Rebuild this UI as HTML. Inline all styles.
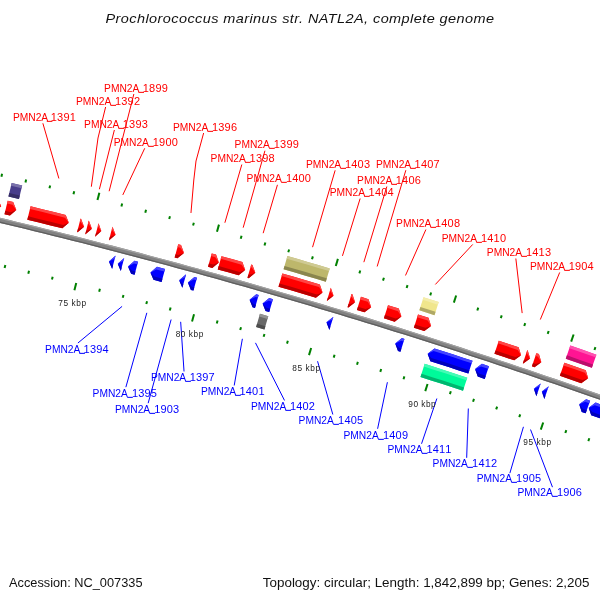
<!DOCTYPE html>
<html><head><meta charset="utf-8"><title>CGView map</title>
<style>
html,body{margin:0;padding:0;background:#fff;}
svg{display:block;font-family:"Liberation Sans",sans-serif;}
svg{will-change:transform;}
</style></head><body>
<svg width="600" height="600" viewBox="0 0 600 600">
<rect width="600" height="600" fill="#fff"/>
<g transform="translate(0.1,0.55)"><polygon points="-31.81,209.70 -22.21,211.95 -12.61,214.21 -3.02,216.49 6.56,218.79 16.15,221.10 25.73,223.43 35.31,225.77 44.88,228.13 54.45,230.50 64.01,232.89 73.57,235.29 83.13,237.71 92.68,240.15 102.23,242.60 111.78,245.07 121.32,247.55 130.86,250.05 140.39,252.57 149.92,255.10 159.44,257.64 168.96,260.20 178.48,262.78 187.99,265.37 197.50,267.98 207.00,270.60 216.50,273.24 226.00,275.89 235.49,278.56 244.97,281.25 254.45,283.95 263.93,286.67 273.40,289.40 282.87,292.15 292.34,294.91 301.80,297.69 311.25,300.48 320.70,303.29 330.15,306.12 339.59,308.96 349.02,311.81 358.45,314.69 367.88,317.57 377.30,320.47 386.72,323.39 396.13,326.32 405.54,329.27 414.94,332.24 424.34,335.22 433.73,338.21 443.12,341.22 452.51,344.25 461.88,347.29 471.26,350.34 480.63,353.41 489.99,356.50 499.35,359.60 508.70,362.72 518.05,365.85 527.39,369.00 536.73,372.16 546.06,375.34 555.39,378.54 564.71,381.75 574.03,384.97 583.34,388.21 592.64,391.47 601.94,394.74 611.24,398.02 620.53,401.32 629.81,404.64 639.09,407.97 637.40,412.67 628.13,409.34 618.85,406.03 609.57,402.73 600.28,399.45 590.99,396.18 581.69,392.93 572.39,389.69 563.08,386.47 553.76,383.27 544.44,380.08 535.12,376.90 525.79,373.74 516.45,370.59 507.11,367.46 497.77,364.35 488.42,361.25 479.06,358.16 469.70,355.10 460.34,352.04 450.97,349.00 441.59,345.98 432.21,342.97 422.83,339.98 413.44,337.00 404.04,334.04 394.64,331.10 385.24,328.17 375.83,325.25 366.41,322.35 356.99,319.47 347.57,316.60 338.14,313.74 328.71,310.91 319.27,308.08 309.83,305.28 300.38,302.49 290.93,299.71 281.48,296.95 272.01,294.20 262.55,291.47 253.08,288.76 243.61,286.06 234.13,283.38 224.65,280.71 215.16,278.06 205.67,275.42 196.17,272.80 186.67,270.19 177.17,267.60 167.66,265.03 158.15,262.47 148.63,259.93 139.11,257.40 129.59,254.89 120.06,252.39 110.52,249.91 100.99,247.44 91.44,244.99 81.90,242.56 72.35,240.14 62.80,237.74 53.24,235.35 43.68,232.98 34.11,230.62 24.55,228.28 14.97,225.96 5.40,223.65 -4.18,221.36 -13.77,219.08 -23.35,216.82 -32.95,214.57" fill="rgb(130,130,130)"/>
<polygon points="-31.81,209.70 -22.21,211.95 -12.61,214.21 -3.02,216.49 6.56,218.79 16.15,221.10 25.73,223.43 35.31,225.77 44.88,228.13 54.45,230.50 64.01,232.89 73.57,235.29 83.13,237.71 92.68,240.15 102.23,242.60 111.78,245.07 121.32,247.55 130.86,250.05 140.39,252.57 149.92,255.10 159.44,257.64 168.96,260.20 178.48,262.78 187.99,265.37 197.50,267.98 207.00,270.60 216.50,273.24 226.00,275.89 235.49,278.56 244.97,281.25 254.45,283.95 263.93,286.67 273.40,289.40 282.87,292.15 292.34,294.91 301.80,297.69 311.25,300.48 320.70,303.29 330.15,306.12 339.59,308.96 349.02,311.81 358.45,314.69 367.88,317.57 377.30,320.47 386.72,323.39 396.13,326.32 405.54,329.27 414.94,332.24 424.34,335.22 433.73,338.21 443.12,341.22 452.51,344.25 461.88,347.29 471.26,350.34 480.63,353.41 489.99,356.50 499.35,359.60 508.70,362.72 518.05,365.85 527.39,369.00 536.73,372.16 546.06,375.34 555.39,378.54 564.71,381.75 574.03,384.97 583.34,388.21 592.64,391.47 601.94,394.74 611.24,398.02 620.53,401.32 629.81,404.64 639.09,407.97 638.72,409.00 629.44,405.67 620.16,402.36 610.87,399.06 601.58,395.77 592.28,392.50 582.98,389.25 573.67,386.01 564.35,382.79 555.03,379.58 545.70,376.38 536.37,373.21 527.04,370.04 517.70,366.90 508.35,363.76 499.00,360.65 489.64,357.55 480.28,354.46 470.92,351.39 461.54,348.33 452.17,345.29 442.79,342.27 433.40,339.26 424.01,336.26 414.61,333.29 405.21,330.32 395.80,327.37 386.39,324.44 376.98,321.53 367.56,318.62 358.13,315.74 348.70,312.87 339.27,310.01 329.83,307.17 320.39,304.35 310.94,301.54 301.48,298.74 292.03,295.97 282.57,293.20 273.10,290.46 263.63,287.73 254.15,285.01 244.67,282.31 235.19,279.62 225.70,276.95 216.21,274.30 206.71,271.66 197.21,269.04 187.70,266.43 178.19,263.84 168.68,261.26 159.16,258.70 149.63,256.16 140.11,253.63 130.58,251.12 121.04,248.62 111.50,246.13 101.96,243.67 92.41,241.22 82.86,238.78 73.30,236.36 63.75,233.96 54.18,231.57 44.61,229.19 35.04,226.84 25.47,224.49 15.89,222.17 6.31,219.86 -3.28,217.56 -12.87,215.28 -22.46,213.02 -32.06,210.77" fill="rgb(164,164,164)"/>
<polygon points="-32.65,213.31 -23.06,215.55 -13.47,217.81 -3.88,220.09 5.70,222.39 15.28,224.70 24.85,227.02 34.42,229.36 43.99,231.72 53.55,234.09 63.11,236.48 72.67,238.88 82.22,241.30 91.77,243.73 101.31,246.19 110.85,248.65 120.38,251.13 129.92,253.63 139.44,256.14 148.97,258.67 158.48,261.21 168.00,263.77 177.51,266.35 187.02,268.94 196.52,271.55 206.01,274.17 215.51,276.80 225.00,279.46 234.48,282.13 243.96,284.81 253.44,287.51 262.91,290.22 272.38,292.95 281.84,295.70 291.30,298.46 300.75,301.24 310.20,304.03 319.64,306.84 329.08,309.66 338.52,312.50 347.95,315.35 357.37,318.22 366.79,321.11 376.21,324.01 385.62,326.93 395.03,329.86 404.43,332.80 413.83,335.77 423.22,338.74 432.61,341.74 441.99,344.74 451.37,347.77 460.74,350.81 470.11,353.86 479.47,356.93 488.83,360.01 498.18,363.11 507.53,366.23 516.87,369.36 526.21,372.51 535.54,375.67 544.86,378.84 554.19,382.04 563.50,385.24 572.81,388.47 582.12,391.70 591.42,394.96 600.71,398.22 610.00,401.51 619.29,404.81 628.57,408.12 637.84,411.45 637.40,412.67 628.13,409.34 618.85,406.03 609.57,402.73 600.28,399.45 590.99,396.18 581.69,392.93 572.39,389.69 563.08,386.47 553.76,383.27 544.44,380.08 535.12,376.90 525.79,373.74 516.45,370.59 507.11,367.46 497.77,364.35 488.42,361.25 479.06,358.16 469.70,355.10 460.34,352.04 450.97,349.00 441.59,345.98 432.21,342.97 422.83,339.98 413.44,337.00 404.04,334.04 394.64,331.10 385.24,328.17 375.83,325.25 366.41,322.35 356.99,319.47 347.57,316.60 338.14,313.74 328.71,310.91 319.27,308.08 309.83,305.28 300.38,302.49 290.93,299.71 281.48,296.95 272.01,294.20 262.55,291.47 253.08,288.76 243.61,286.06 234.13,283.38 224.65,280.71 215.16,278.06 205.67,275.42 196.17,272.80 186.67,270.19 177.17,267.60 167.66,265.03 158.15,262.47 148.63,259.93 139.11,257.40 129.59,254.89 120.06,252.39 110.52,249.91 100.99,247.44 91.44,244.99 81.90,242.56 72.35,240.14 62.80,237.74 53.24,235.35 43.68,232.98 34.11,230.62 24.55,228.28 14.97,225.96 5.40,223.65 -4.18,221.36 -13.77,219.08 -23.35,216.82 -32.95,214.57" fill="rgb(95,95,95)"/></g>
<polygon points="-15.77,195.18 -2.01,198.44 1.18,206.29 -5.21,211.86 -18.94,208.61" fill="rgb(255,0,0)"/>
<polygon points="-15.77,195.18 -2.01,198.44 1.18,206.29 -2.65,201.12 -16.41,197.87" fill="rgb(255,69,69)"/>
<polygon points="-18.15,205.25 -4.41,208.51 1.18,206.29 -5.21,211.86 -18.94,208.61" fill="rgb(186,0,0)"/>
<polygon points="7.71,200.76 13.15,202.07 16.32,209.93 9.92,215.48 4.50,214.18" fill="rgb(255,0,0)"/>
<polygon points="7.71,200.76 13.15,202.07 16.32,209.93 12.50,204.75 7.07,203.44" fill="rgb(255,69,69)"/>
<polygon points="5.30,210.82 10.73,212.13 16.32,209.93 9.92,215.48 4.50,214.18" fill="rgb(186,0,0)"/>
<polygon points="30.60,206.29 42.31,209.16 54.01,212.05 65.71,214.96 68.81,222.85 62.36,228.35 50.69,225.44 39.02,222.56 27.33,219.70" fill="rgb(255,0,0)"/>
<polygon points="30.60,206.29 42.31,209.16 54.01,212.05 65.71,214.96 68.81,222.85 65.04,217.64 53.35,214.73 41.65,211.84 29.95,208.97" fill="rgb(255,69,69)"/>
<polygon points="28.15,216.35 39.84,219.21 51.52,222.10 63.20,225.00 68.81,222.85 62.36,228.35 50.69,225.44 39.02,222.56 27.33,219.70" fill="rgb(186,0,0)"/>
<polygon points="80.52,218.69 81.00,218.81 84.08,226.71 77.61,232.19 77.14,232.07" fill="rgb(255,0,0)"/>
<polygon points="80.52,218.69 81.00,218.81 84.08,226.71 80.32,221.49 79.84,221.37" fill="rgb(255,69,69)"/>
<polygon points="77.98,228.72 78.46,228.84 84.08,226.71 77.61,232.19 77.14,232.07" fill="rgb(186,0,0)"/>
<polygon points="88.66,220.75 88.88,220.81 91.95,228.71 85.48,234.18 85.26,234.13" fill="rgb(255,0,0)"/>
<polygon points="88.66,220.75 88.88,220.81 91.95,228.71 88.20,223.48 87.98,223.43" fill="rgb(255,69,69)"/>
<polygon points="86.11,230.79 86.33,230.84 91.95,228.71 85.48,234.18 85.26,234.13" fill="rgb(186,0,0)"/>
<polygon points="98.50,223.26 101.31,231.11 95.07,236.63" fill="rgb(255,0,0)"/>
<polygon points="98.50,223.26 101.31,231.11 97.81,225.94" fill="rgb(255,69,69)"/>
<polygon points="95.93,233.29 101.31,231.11 95.07,236.63" fill="rgb(186,0,0)"/>
<polygon points="112.43,226.85 112.57,226.89 115.61,234.80 109.12,240.25 108.97,240.21" fill="rgb(255,0,0)"/>
<polygon points="112.43,226.85 112.57,226.89 115.61,234.80 111.88,229.56 111.74,229.52" fill="rgb(255,69,69)"/>
<polygon points="109.84,236.87 109.98,236.91 115.61,234.80 109.12,240.25 108.97,240.21" fill="rgb(186,0,0)"/>
<polygon points="178.25,244.27 181.03,245.03 183.97,252.98 177.42,258.35 174.64,257.59" fill="rgb(255,0,0)"/>
<polygon points="178.25,244.27 181.03,245.03 183.97,252.98 180.31,247.69 177.53,246.94" fill="rgb(255,69,69)"/>
<polygon points="175.54,254.26 178.32,255.02 183.97,252.98 177.42,258.35 174.64,257.59" fill="rgb(186,0,0)"/>
<polygon points="211.72,253.44 216.00,254.62 218.89,262.59 212.30,267.92 208.04,266.74" fill="rgb(255,0,0)"/>
<polygon points="211.72,253.44 216.00,254.62 218.89,262.59 215.26,257.28 210.99,256.10" fill="rgb(255,69,69)"/>
<polygon points="208.96,263.41 213.23,264.60 218.89,262.59 212.30,267.92 208.04,266.74" fill="rgb(186,0,0)"/>
<polygon points="221.46,256.14 231.90,259.07 242.35,262.01 245.21,269.99 238.60,275.29 228.18,272.35 217.75,269.44" fill="rgb(255,0,0)"/>
<polygon points="221.46,256.14 231.90,259.07 242.35,262.01 245.21,269.99 241.60,264.66 231.16,261.72 220.71,258.80" fill="rgb(255,69,69)"/>
<polygon points="218.68,266.11 229.11,269.03 239.54,271.97 245.21,269.99 238.60,275.29 228.18,272.35 217.75,269.44" fill="rgb(186,0,0)"/>
<polygon points="251.26,264.53 252.47,264.88 255.31,272.86 248.69,278.15 247.49,277.81" fill="rgb(255,0,0)"/>
<polygon points="251.26,264.53 252.47,264.88 255.31,272.86 251.71,267.53 250.51,267.19" fill="rgb(255,69,69)"/>
<polygon points="248.43,274.49 249.64,274.83 255.31,272.86 248.69,278.15 247.49,277.81" fill="rgb(186,0,0)"/>
<polygon points="282.35,273.46 294.85,277.10 307.35,280.77 319.83,284.46 322.59,292.48 315.90,297.69 303.45,294.01 290.98,290.35 278.50,286.71" fill="rgb(255,0,0)"/>
<polygon points="282.35,273.46 294.85,277.10 307.35,280.77 319.83,284.46 322.59,292.48 319.05,287.11 306.57,283.42 294.08,279.75 281.58,276.11" fill="rgb(255,69,69)"/>
<polygon points="279.46,283.40 291.95,287.03 304.42,290.70 316.89,294.38 322.59,292.48 315.90,297.69 303.45,294.01 290.98,290.35 278.50,286.71" fill="rgb(186,0,0)"/>
<polygon points="330.79,287.73 330.81,287.74 333.55,295.76 326.86,300.96 326.83,300.95" fill="rgb(255,0,0)"/>
<polygon points="330.79,287.73 330.81,287.74 333.55,295.76 330.02,290.38 330.00,290.37" fill="rgb(255,69,69)"/>
<polygon points="327.82,297.64 327.85,297.65 333.55,295.76 326.86,300.96 326.83,300.95" fill="rgb(186,0,0)"/>
<polygon points="351.54,293.98 352.39,294.24 355.10,302.27 348.39,307.44 347.54,307.19" fill="rgb(255,0,0)"/>
<polygon points="351.54,293.98 352.39,294.24 355.10,302.27 351.59,296.88 350.74,296.62" fill="rgb(255,69,69)"/>
<polygon points="348.54,303.88 349.39,304.14 355.10,302.27 348.39,307.44 347.54,307.19" fill="rgb(186,0,0)"/>
<polygon points="360.97,296.84 368.49,299.14 371.17,307.18 364.45,312.33 356.95,310.04" fill="rgb(255,0,0)"/>
<polygon points="360.97,296.84 368.49,299.14 371.17,307.18 367.68,301.78 360.17,299.48" fill="rgb(255,69,69)"/>
<polygon points="357.95,306.74 365.46,309.04 371.17,307.18 364.45,312.33 356.95,310.04" fill="rgb(186,0,0)"/>
<polygon points="388.03,305.16 398.78,308.50 401.42,316.56 394.67,321.68 383.94,318.34" fill="rgb(255,0,0)"/>
<polygon points="388.03,305.16 398.78,308.50 401.42,316.56 397.95,311.14 387.21,307.80" fill="rgb(255,69,69)"/>
<polygon points="384.96,315.05 395.69,318.38 401.42,316.56 394.67,321.68 383.94,318.34" fill="rgb(186,0,0)"/>
<polygon points="418.03,314.54 428.50,317.86 431.10,325.93 424.32,331.01 413.87,327.70" fill="rgb(255,0,0)"/>
<polygon points="418.03,314.54 428.50,317.86 431.10,325.93 427.66,320.49 417.19,317.18" fill="rgb(255,69,69)"/>
<polygon points="414.91,324.41 425.37,327.72 431.10,325.93 424.32,331.01 413.87,327.70" fill="rgb(186,0,0)"/>
<polygon points="498.77,340.66 508.69,343.95 518.61,347.27 521.08,355.37 514.23,360.35 504.33,357.05 494.43,353.76" fill="rgb(255,0,0)"/>
<polygon points="498.77,340.66 508.69,343.95 518.61,347.27 521.08,355.37 517.73,349.88 507.82,346.57 497.90,343.28" fill="rgb(255,69,69)"/>
<polygon points="495.51,350.48 505.42,353.77 515.32,357.08 521.08,355.37 514.23,360.35 504.33,357.05 494.43,353.76" fill="rgb(186,0,0)"/>
<polygon points="527.27,350.18 527.65,350.30 530.11,358.41 523.24,363.38 522.87,363.26" fill="rgb(255,0,0)"/>
<polygon points="527.27,350.18 527.65,350.30 530.11,358.41 526.77,352.92 526.39,352.79" fill="rgb(255,69,69)"/>
<polygon points="523.97,359.99 524.34,360.11 530.11,358.41 523.24,363.38 522.87,363.26" fill="rgb(186,0,0)"/>
<polygon points="536.35,353.24 538.90,354.10 541.34,362.22 534.46,367.17 531.93,366.31" fill="rgb(255,0,0)"/>
<polygon points="536.35,353.24 538.90,354.10 541.34,362.22 538.01,356.72 535.47,355.86" fill="rgb(255,69,69)"/>
<polygon points="533.03,363.05 535.57,363.91 541.34,362.22 534.46,367.17 531.93,366.31" fill="rgb(186,0,0)"/>
<polygon points="564.35,362.80 575.06,366.49 585.77,370.21 588.15,378.34 581.23,383.24 570.55,379.53 559.86,375.85" fill="rgb(255,0,0)"/>
<polygon points="564.35,362.80 575.06,366.49 585.77,370.21 588.15,378.34 584.86,372.81 574.16,369.10 563.45,365.41" fill="rgb(255,69,69)"/>
<polygon points="560.99,372.58 571.68,376.27 582.36,379.98 588.15,378.34 581.23,383.24 570.55,379.53 559.86,375.85" fill="rgb(186,0,0)"/>
<polygon points="108.91,261.48 115.44,255.84 115.54,255.86 112.16,268.83 112.06,268.80" fill="rgb(0,0,255)"/>
<polygon points="108.91,261.48 115.44,255.84 115.54,255.86 114.86,258.46 114.77,258.43" fill="rgb(69,69,255)"/>
<polygon points="108.91,261.48 112.91,265.56 113.00,265.59 112.16,268.83 112.06,268.80" fill="rgb(0,0,186)"/>
<polygon points="117.75,263.78 124.17,258.12 120.78,271.08" fill="rgb(0,0,255)"/>
<polygon points="117.75,263.78 124.17,258.12 123.49,260.71" fill="rgb(69,69,255)"/>
<polygon points="117.75,263.78 121.63,267.84 120.78,271.08" fill="rgb(0,0,186)"/>
<polygon points="128.01,266.47 134.56,260.85 138.02,261.77 134.59,274.72 131.14,273.81" fill="rgb(0,0,255)"/>
<polygon points="128.01,266.47 134.56,260.85 138.02,261.77 137.34,264.36 133.88,263.44" fill="rgb(69,69,255)"/>
<polygon points="128.01,266.47 132.00,270.57 135.45,271.48 134.59,274.72 131.14,273.81" fill="rgb(0,0,186)"/>
<polygon points="150.43,272.41 157.00,266.82 165.08,268.99 161.59,281.93 153.53,279.76" fill="rgb(0,0,255)"/>
<polygon points="150.43,272.41 157.00,266.82 165.08,268.99 164.38,271.58 156.31,269.41" fill="rgb(69,69,255)"/>
<polygon points="150.43,272.41 154.40,276.53 162.46,278.70 161.59,281.93 153.53,279.76" fill="rgb(0,0,186)"/>
<polygon points="179.16,280.17 185.76,274.61 186.00,274.67 182.46,287.60 182.23,287.53" fill="rgb(0,0,255)"/>
<polygon points="179.16,280.17 185.76,274.61 186.00,274.67 185.29,277.26 185.05,277.19" fill="rgb(69,69,255)"/>
<polygon points="179.16,280.17 183.11,284.30 183.35,284.37 182.46,287.60 182.23,287.53" fill="rgb(0,0,186)"/>
<polygon points="187.88,282.55 194.49,277.00 197.02,277.70 193.46,290.62 190.93,289.92" fill="rgb(0,0,255)"/>
<polygon points="187.88,282.55 194.49,277.00 197.02,277.70 196.30,280.28 193.78,279.59" fill="rgb(69,69,255)"/>
<polygon points="187.88,282.55 191.82,286.69 194.35,287.39 193.46,290.62 190.93,289.92" fill="rgb(0,0,186)"/>
<polygon points="249.60,299.83 256.27,294.35 258.67,295.04 254.98,307.92 252.58,307.23" fill="rgb(0,0,255)"/>
<polygon points="249.60,299.83 256.27,294.35 258.67,295.04 257.94,297.62 255.53,296.93" fill="rgb(69,69,255)"/>
<polygon points="249.60,299.83 253.50,304.01 255.90,304.70 254.98,307.92 252.58,307.23" fill="rgb(0,0,186)"/>
<polygon points="262.60,303.56 269.28,298.10 272.93,299.15 269.20,312.02 265.56,310.97" fill="rgb(0,0,255)"/>
<polygon points="262.60,303.56 269.28,298.10 272.93,299.15 272.18,301.73 268.53,300.67" fill="rgb(69,69,255)"/>
<polygon points="262.60,303.56 266.49,307.75 270.13,308.81 269.20,312.02 265.56,310.97" fill="rgb(0,0,186)"/>
<polygon points="326.44,322.34 333.18,316.95 333.32,316.99 329.46,329.82 329.32,329.78" fill="rgb(0,0,255)"/>
<polygon points="326.44,322.34 333.18,316.95 333.32,316.99 332.55,319.56 332.41,319.52" fill="rgb(69,69,255)"/>
<polygon points="326.44,322.34 330.28,326.57 330.42,326.62 329.46,329.82 329.32,329.78" fill="rgb(0,0,186)"/>
<polygon points="395.22,343.43 402.02,338.12 404.45,338.89 400.43,351.67 398.00,350.91" fill="rgb(0,0,255)"/>
<polygon points="395.22,343.43 402.02,338.12 404.45,338.89 403.65,341.45 401.21,340.68" fill="rgb(69,69,255)"/>
<polygon points="395.22,343.43 399.01,347.71 401.43,348.48 400.43,351.67 398.00,350.91" fill="rgb(0,0,186)"/>
<polygon points="427.63,353.69 434.46,348.42 443.99,351.48 453.51,354.56 463.02,357.65 472.53,360.76 468.36,373.49 458.87,370.39 449.38,367.30 439.88,364.23 430.37,361.18" fill="rgb(0,0,255)"/>
<polygon points="427.63,353.69 434.46,348.42 443.99,351.48 453.51,354.56 463.02,357.65 472.53,360.76 471.70,363.30 462.19,360.20 452.68,357.11 443.16,354.03 433.64,350.97" fill="rgb(69,69,255)"/>
<polygon points="427.63,353.69 431.39,357.99 440.90,361.04 450.41,364.12 459.91,367.20 469.40,370.31 468.36,373.49 458.87,370.39 449.38,367.30 439.88,364.23 430.37,361.18" fill="rgb(0,0,186)"/>
<polygon points="475.07,369.06 481.94,363.85 488.93,366.16 484.72,378.88 477.75,376.58" fill="rgb(0,0,255)"/>
<polygon points="475.07,369.06 481.94,363.85 488.93,366.16 488.09,368.70 481.10,366.40" fill="rgb(69,69,255)"/>
<polygon points="475.07,369.06 478.80,373.39 485.77,375.70 484.72,378.88 477.75,376.58" fill="rgb(0,0,186)"/>
<polygon points="533.88,388.73 540.72,383.56 536.39,396.24" fill="rgb(0,0,255)"/>
<polygon points="533.88,388.73 540.72,383.56 539.85,386.09" fill="rgb(69,69,255)"/>
<polygon points="533.88,388.73 537.47,393.07 536.39,396.24" fill="rgb(0,0,186)"/>
<polygon points="541.86,391.45 548.70,386.29 544.36,398.96" fill="rgb(0,0,255)"/>
<polygon points="541.86,391.45 548.70,386.29 547.83,388.82" fill="rgb(69,69,255)"/>
<polygon points="541.86,391.45 545.44,395.79 544.36,398.96" fill="rgb(0,0,186)"/>
<polygon points="579.20,404.35 586.17,399.26 590.13,400.65 585.69,413.29 581.74,411.91" fill="rgb(0,0,255)"/>
<polygon points="579.20,404.35 586.17,399.26 590.13,400.65 589.24,403.18 585.28,401.79" fill="rgb(69,69,255)"/>
<polygon points="579.20,404.35 582.85,408.75 586.80,410.13 585.69,413.29 581.74,411.91" fill="rgb(0,0,186)"/>
<polygon points="588.70,407.67 595.68,402.60 610.48,407.83 605.99,420.46 591.23,415.24" fill="rgb(0,0,255)"/>
<polygon points="588.70,407.67 595.68,402.60 610.48,407.83 609.58,410.35 594.79,405.13" fill="rgb(69,69,255)"/>
<polygon points="588.70,407.67 592.34,412.08 607.11,417.30 605.99,420.46 591.23,415.24" fill="rgb(0,0,186)"/>
<polygon points="11.67,182.99 22.21,185.53 18.97,198.94 8.45,196.41" fill="rgb(72,61,139)"/>
<polygon points="11.67,182.99 22.21,185.53 21.57,188.21 11.02,185.68" fill="rgb(121,113,170)"/>
<polygon points="9.26,193.06 19.78,195.59 18.97,198.94 8.45,196.41" fill="rgb(53,45,101)"/>
<polygon points="287.42,255.98 298.01,259.06 308.60,262.16 319.18,265.29 329.75,268.43 325.81,281.65 315.26,278.52 304.70,275.40 294.14,272.31 283.57,269.23" fill="rgb(189,183,107)"/>
<polygon points="287.42,255.98 298.01,259.06 308.60,262.16 319.18,265.29 329.75,268.43 328.97,271.07 318.39,267.93 307.82,264.81 297.24,261.71 286.65,258.63" fill="rgb(207,202,147)"/>
<polygon points="284.53,265.92 295.11,269.00 305.68,272.09 316.24,275.21 326.80,278.35 325.81,281.65 315.26,278.52 304.70,275.40 294.14,272.31 283.57,269.23" fill="rgb(138,134,78)"/>
<polygon points="423.50,297.19 438.72,302.01 434.53,315.16 419.35,310.35" fill="rgb(240,230,140)"/>
<polygon points="423.50,297.19 438.72,302.01 437.88,304.64 422.67,299.82" fill="rgb(244,237,171)"/>
<polygon points="420.39,307.06 435.58,311.87 434.53,315.16 419.35,310.35" fill="rgb(175,168,102)"/>
<polygon points="570.27,345.59 583.35,350.10 596.42,354.65 591.87,367.68 578.83,363.14 565.78,358.64" fill="rgb(255,20,147)"/>
<polygon points="570.27,345.59 583.35,350.10 596.42,354.65 595.51,357.25 582.45,352.71 569.37,348.20" fill="rgb(255,83,176)"/>
<polygon points="566.90,355.37 579.96,359.88 593.01,364.42 591.87,367.68 578.83,363.14 565.78,358.64" fill="rgb(186,15,107)"/>
<polygon points="259.95,313.83 268.29,316.24 264.45,329.49 256.13,327.09" fill="rgb(105,105,105)"/>
<polygon points="259.95,313.83 268.29,316.24 267.52,318.89 259.18,316.48" fill="rgb(146,146,146)"/>
<polygon points="257.08,323.77 265.41,326.18 264.45,329.49 256.13,327.09" fill="rgb(77,77,77)"/>
<polygon points="424.68,363.87 435.35,367.29 446.00,370.73 456.65,374.19 467.30,377.67 463.00,390.78 452.38,387.31 441.75,383.86 431.12,380.43 420.48,377.02" fill="rgb(0,250,154)"/>
<polygon points="424.68,363.87 435.35,367.29 446.00,370.73 456.65,374.19 467.30,377.67 466.44,380.29 455.80,376.81 445.15,373.36 434.50,369.92 423.84,366.50" fill="rgb(69,251,181)"/>
<polygon points="421.53,373.73 432.18,377.15 442.82,380.58 453.45,384.03 464.07,387.50 463.00,390.78 452.38,387.31 441.75,383.86 431.12,380.43 420.48,377.02" fill="rgb(0,182,112)"/>
<g transform="translate(0,0.5)">
<line x1="-22.61" y1="170.26" x2="-20.90" y2="162.96" stroke="rgb(0,128,0)" stroke-width="2"/>
<line x1="1.40" y1="176.17" x2="2.10" y2="173.25" stroke="rgb(0,128,0)" stroke-width="2"/>
<line x1="25.45" y1="181.94" x2="26.15" y2="179.02" stroke="rgb(0,128,0)" stroke-width="2"/>
<line x1="49.47" y1="187.80" x2="50.18" y2="184.89" stroke="rgb(0,128,0)" stroke-width="2"/>
<line x1="73.46" y1="193.76" x2="74.19" y2="190.85" stroke="rgb(0,128,0)" stroke-width="2"/>
<line x1="97.49" y1="199.58" x2="99.35" y2="192.31" stroke="rgb(0,128,0)" stroke-width="2"/>
<line x1="121.38" y1="205.98" x2="122.13" y2="203.07" stroke="rgb(0,128,0)" stroke-width="2"/>
<line x1="145.30" y1="212.23" x2="146.06" y2="209.33" stroke="rgb(0,128,0)" stroke-width="2"/>
<line x1="169.19" y1="218.58" x2="169.97" y2="215.69" stroke="rgb(0,128,0)" stroke-width="2"/>
<line x1="193.06" y1="225.03" x2="193.85" y2="222.14" stroke="rgb(0,128,0)" stroke-width="2"/>
<line x1="216.97" y1="231.34" x2="218.97" y2="224.11" stroke="rgb(0,128,0)" stroke-width="2"/>
<line x1="240.72" y1="238.22" x2="241.53" y2="235.33" stroke="rgb(0,128,0)" stroke-width="2"/>
<line x1="264.51" y1="244.96" x2="265.33" y2="242.08" stroke="rgb(0,128,0)" stroke-width="2"/>
<line x1="288.27" y1="251.80" x2="289.10" y2="248.92" stroke="rgb(0,128,0)" stroke-width="2"/>
<line x1="312.00" y1="258.74" x2="312.85" y2="255.86" stroke="rgb(0,128,0)" stroke-width="2"/>
<line x1="335.78" y1="265.53" x2="337.92" y2="258.34" stroke="rgb(0,128,0)" stroke-width="2"/>
<line x1="359.38" y1="272.89" x2="360.25" y2="270.02" stroke="rgb(0,128,0)" stroke-width="2"/>
<line x1="383.03" y1="280.12" x2="383.91" y2="277.25" stroke="rgb(0,128,0)" stroke-width="2"/>
<line x1="406.64" y1="287.44" x2="407.54" y2="284.58" stroke="rgb(0,128,0)" stroke-width="2"/>
<line x1="430.23" y1="294.86" x2="431.13" y2="292.00" stroke="rgb(0,128,0)" stroke-width="2"/>
<line x1="453.86" y1="302.13" x2="456.15" y2="294.99" stroke="rgb(0,128,0)" stroke-width="2"/>
<line x1="477.31" y1="309.98" x2="478.24" y2="307.13" stroke="rgb(0,128,0)" stroke-width="2"/>
<line x1="500.80" y1="317.68" x2="501.74" y2="314.84" stroke="rgb(0,128,0)" stroke-width="2"/>
<line x1="524.26" y1="325.49" x2="525.22" y2="322.64" stroke="rgb(0,128,0)" stroke-width="2"/>
<line x1="547.69" y1="333.38" x2="548.66" y2="330.54" stroke="rgb(0,128,0)" stroke-width="2"/>
<line x1="571.17" y1="341.14" x2="573.61" y2="334.04" stroke="rgb(0,128,0)" stroke-width="2"/>
<line x1="594.46" y1="349.46" x2="595.44" y2="346.63" stroke="rgb(0,128,0)" stroke-width="2"/>
<line x1="617.79" y1="357.64" x2="618.79" y2="354.81" stroke="rgb(0,128,0)" stroke-width="2"/>
<line x1="641.09" y1="365.92" x2="642.10" y2="363.10" stroke="rgb(0,128,0)" stroke-width="2"/>
</g>
<g transform="translate(0,0.0)">
<line x1="-42.15" y1="254.01" x2="-43.85" y2="261.32" stroke="rgb(0,128,0)" stroke-width="2"/>
<line x1="-18.36" y1="259.36" x2="-19.06" y2="262.28" stroke="rgb(0,128,0)" stroke-width="2"/>
<line x1="5.34" y1="265.04" x2="4.63" y2="267.96" stroke="rgb(0,128,0)" stroke-width="2"/>
<line x1="29.02" y1="270.82" x2="28.30" y2="273.73" stroke="rgb(0,128,0)" stroke-width="2"/>
<line x1="52.68" y1="276.70" x2="51.95" y2="279.61" stroke="rgb(0,128,0)" stroke-width="2"/>
<line x1="76.25" y1="282.91" x2="74.40" y2="290.18" stroke="rgb(0,128,0)" stroke-width="2"/>
<line x1="99.92" y1="288.74" x2="99.17" y2="291.64" stroke="rgb(0,128,0)" stroke-width="2"/>
<line x1="123.50" y1="294.91" x2="122.74" y2="297.81" stroke="rgb(0,128,0)" stroke-width="2"/>
<line x1="147.06" y1="301.17" x2="146.28" y2="304.07" stroke="rgb(0,128,0)" stroke-width="2"/>
<line x1="170.59" y1="307.53" x2="169.80" y2="310.42" stroke="rgb(0,128,0)" stroke-width="2"/>
<line x1="194.03" y1="314.22" x2="192.03" y2="321.45" stroke="rgb(0,128,0)" stroke-width="2"/>
<line x1="217.58" y1="320.53" x2="216.77" y2="323.42" stroke="rgb(0,128,0)" stroke-width="2"/>
<line x1="241.03" y1="327.18" x2="240.21" y2="330.06" stroke="rgb(0,128,0)" stroke-width="2"/>
<line x1="264.46" y1="333.92" x2="263.62" y2="336.80" stroke="rgb(0,128,0)" stroke-width="2"/>
<line x1="287.85" y1="340.75" x2="287.01" y2="343.63" stroke="rgb(0,128,0)" stroke-width="2"/>
<line x1="311.15" y1="347.93" x2="309.00" y2="355.11" stroke="rgb(0,128,0)" stroke-width="2"/>
<line x1="334.57" y1="354.71" x2="333.69" y2="357.59" stroke="rgb(0,128,0)" stroke-width="2"/>
<line x1="357.88" y1="361.84" x2="357.00" y2="364.70" stroke="rgb(0,128,0)" stroke-width="2"/>
<line x1="381.16" y1="369.05" x2="380.27" y2="371.92" stroke="rgb(0,128,0)" stroke-width="2"/>
<line x1="404.41" y1="376.37" x2="403.51" y2="379.23" stroke="rgb(0,128,0)" stroke-width="2"/>
<line x1="427.56" y1="384.01" x2="425.27" y2="391.15" stroke="rgb(0,128,0)" stroke-width="2"/>
<line x1="450.83" y1="391.28" x2="449.90" y2="394.13" stroke="rgb(0,128,0)" stroke-width="2"/>
<line x1="473.99" y1="398.87" x2="473.05" y2="401.72" stroke="rgb(0,128,0)" stroke-width="2"/>
<line x1="497.12" y1="406.56" x2="496.17" y2="409.41" stroke="rgb(0,128,0)" stroke-width="2"/>
<line x1="520.22" y1="414.35" x2="519.26" y2="417.19" stroke="rgb(0,128,0)" stroke-width="2"/>
<line x1="543.21" y1="422.46" x2="540.77" y2="429.56" stroke="rgb(0,128,0)" stroke-width="2"/>
<line x1="566.33" y1="430.20" x2="565.34" y2="433.03" stroke="rgb(0,128,0)" stroke-width="2"/>
<line x1="589.33" y1="438.27" x2="588.33" y2="441.10" stroke="rgb(0,128,0)" stroke-width="2"/>
<line x1="612.30" y1="446.43" x2="611.29" y2="449.25" stroke="rgb(0,128,0)" stroke-width="2"/>
</g>
<polyline points="43.00,123.75 58.75,178.00" fill="none" stroke="rgb(255,0,0)" stroke-width="1" stroke-linecap="square"/>
<text x="12.90" y="121.00" font-size="11.00" fill="rgb(255,0,0)" textLength="35.3" lengthAdjust="spacingAndGlyphs">PMN2A</text>
<rect x="46.80" y="120.85" width="5.6" height="1" fill="rgb(255,0,0)"/>
<text x="50.80 57.10 63.40 69.70" y="121.00" font-size="11.00" fill="rgb(255,0,0)">1391</text>
<polyline points="105.50,107.50 98.00,138.00 91.40,186.20" fill="none" stroke="rgb(255,0,0)" stroke-width="1" stroke-linecap="square"/>
<text x="76.00" y="105.00" font-size="11.00" fill="rgb(255,0,0)" textLength="35.3" lengthAdjust="spacingAndGlyphs">PMN2A</text>
<rect x="110.45" y="104.85" width="5.6" height="1" fill="rgb(255,0,0)"/>
<text x="115.00 121.30 127.60 133.90" y="105.00" font-size="11.00" fill="rgb(255,0,0)">1392</text>
<polyline points="133.75,94.50 109.25,190.75" fill="none" stroke="rgb(255,0,0)" stroke-width="1" stroke-linecap="square"/>
<text x="104.10" y="92.00" font-size="11.00" fill="rgb(255,0,0)" textLength="35.3" lengthAdjust="spacingAndGlyphs">PMN2A</text>
<rect x="138.40" y="91.85" width="5.6" height="1" fill="rgb(255,0,0)"/>
<text x="142.80 149.10 155.40 161.70" y="92.00" font-size="11.00" fill="rgb(255,0,0)">1899</text>
<polyline points="114.25,130.50 99.50,188.75" fill="none" stroke="rgb(255,0,0)" stroke-width="1" stroke-linecap="square"/>
<text x="84.10" y="128.00" font-size="11.00" fill="rgb(255,0,0)" textLength="35.3" lengthAdjust="spacingAndGlyphs">PMN2A</text>
<rect x="118.40" y="127.85" width="5.6" height="1" fill="rgb(255,0,0)"/>
<text x="122.80 129.10 135.40 141.70" y="128.00" font-size="11.00" fill="rgb(255,0,0)">1393</text>
<polyline points="144.50,148.75 123.00,194.50" fill="none" stroke="rgb(255,0,0)" stroke-width="1" stroke-linecap="square"/>
<text x="113.65" y="146.00" font-size="11.00" fill="rgb(255,0,0)" textLength="35.3" lengthAdjust="spacingAndGlyphs">PMN2A</text>
<rect x="148.18" y="145.85" width="5.6" height="1" fill="rgb(255,0,0)"/>
<text x="152.80 159.10 165.40 171.70" y="146.00" font-size="11.00" fill="rgb(255,0,0)">1900</text>
<polyline points="203.50,133.50 196.00,161.00 193.80,180.00 191.00,212.50" fill="none" stroke="rgb(255,0,0)" stroke-width="1" stroke-linecap="square"/>
<text x="173.00" y="131.00" font-size="11.00" fill="rgb(255,0,0)" textLength="35.3" lengthAdjust="spacingAndGlyphs">PMN2A</text>
<rect x="207.45" y="130.85" width="5.6" height="1" fill="rgb(255,0,0)"/>
<text x="212.00 218.30 224.60 230.90" y="131.00" font-size="11.00" fill="rgb(255,0,0)">1396</text>
<polyline points="264.80,151.20 243.30,227.20" fill="none" stroke="rgb(255,0,0)" stroke-width="1" stroke-linecap="square"/>
<text x="234.60" y="148.00" font-size="11.00" fill="rgb(255,0,0)" textLength="35.3" lengthAdjust="spacingAndGlyphs">PMN2A</text>
<rect x="269.15" y="147.85" width="5.6" height="1" fill="rgb(255,0,0)"/>
<text x="273.80 280.10 286.40 292.70" y="148.00" font-size="11.00" fill="rgb(255,0,0)">1399</text>
<polyline points="241.70,165.00 225.00,222.30" fill="none" stroke="rgb(255,0,0)" stroke-width="1" stroke-linecap="square"/>
<text x="210.60" y="162.00" font-size="11.00" fill="rgb(255,0,0)" textLength="35.3" lengthAdjust="spacingAndGlyphs">PMN2A</text>
<rect x="245.05" y="161.85" width="5.6" height="1" fill="rgb(255,0,0)"/>
<text x="249.60 255.90 262.20 268.50" y="162.00" font-size="11.00" fill="rgb(255,0,0)">1398</text>
<polyline points="277.30,185.30 263.30,232.70" fill="none" stroke="rgb(255,0,0)" stroke-width="1" stroke-linecap="square"/>
<text x="246.60" y="182.00" font-size="11.00" fill="rgb(255,0,0)" textLength="35.3" lengthAdjust="spacingAndGlyphs">PMN2A</text>
<rect x="281.20" y="181.85" width="5.6" height="1" fill="rgb(255,0,0)"/>
<text x="285.90 292.20 298.50 304.80" y="182.00" font-size="11.00" fill="rgb(255,0,0)">1400</text>
<polyline points="335.00,170.80 312.70,246.70" fill="none" stroke="rgb(255,0,0)" stroke-width="1" stroke-linecap="square"/>
<text x="305.90" y="168.00" font-size="11.00" fill="rgb(255,0,0)" textLength="35.3" lengthAdjust="spacingAndGlyphs">PMN2A</text>
<rect x="340.40" y="167.85" width="5.6" height="1" fill="rgb(255,0,0)"/>
<text x="345.00 351.30 357.60 363.90" y="168.00" font-size="11.00" fill="rgb(255,0,0)">1403</text>
<polyline points="405.70,170.70 377.30,266.00" fill="none" stroke="rgb(255,0,0)" stroke-width="1" stroke-linecap="square"/>
<text x="375.90" y="168.00" font-size="11.00" fill="rgb(255,0,0)" textLength="35.3" lengthAdjust="spacingAndGlyphs">PMN2A</text>
<rect x="410.20" y="167.85" width="5.6" height="1" fill="rgb(255,0,0)"/>
<text x="414.60 420.90 427.20 433.50" y="168.00" font-size="11.00" fill="rgb(255,0,0)">1407</text>
<polyline points="386.70,187.00 364.00,261.70" fill="none" stroke="rgb(255,0,0)" stroke-width="1" stroke-linecap="square"/>
<text x="357.10" y="184.00" font-size="11.00" fill="rgb(255,0,0)" textLength="35.3" lengthAdjust="spacingAndGlyphs">PMN2A</text>
<rect x="391.40" y="183.85" width="5.6" height="1" fill="rgb(255,0,0)"/>
<text x="395.80 402.10 408.40 414.70" y="184.00" font-size="11.00" fill="rgb(255,0,0)">1406</text>
<polyline points="360.00,199.00 342.60,255.40" fill="none" stroke="rgb(255,0,0)" stroke-width="1" stroke-linecap="square"/>
<text x="329.70" y="196.00" font-size="11.00" fill="rgb(255,0,0)" textLength="35.3" lengthAdjust="spacingAndGlyphs">PMN2A</text>
<rect x="364.10" y="195.85" width="5.6" height="1" fill="rgb(255,0,0)"/>
<text x="368.60 374.90 381.20 387.50" y="196.00" font-size="11.00" fill="rgb(255,0,0)">1404</text>
<polyline points="425.70,230.00 405.70,275.00" fill="none" stroke="rgb(255,0,0)" stroke-width="1" stroke-linecap="square"/>
<text x="396.10" y="227.00" font-size="11.00" fill="rgb(255,0,0)" textLength="35.3" lengthAdjust="spacingAndGlyphs">PMN2A</text>
<rect x="430.50" y="226.85" width="5.6" height="1" fill="rgb(255,0,0)"/>
<text x="435.00 441.30 447.60 453.90" y="227.00" font-size="11.00" fill="rgb(255,0,0)">1408</text>
<polyline points="472.40,244.80 435.70,284.10" fill="none" stroke="rgb(255,0,0)" stroke-width="1" stroke-linecap="square"/>
<text x="441.70" y="242.00" font-size="11.00" fill="rgb(255,0,0)" textLength="35.3" lengthAdjust="spacingAndGlyphs">PMN2A</text>
<rect x="476.30" y="241.85" width="5.6" height="1" fill="rgb(255,0,0)"/>
<text x="481.00 487.30 493.60 499.90" y="242.00" font-size="11.00" fill="rgb(255,0,0)">1410</text>
<polyline points="515.90,259.00 522.10,312.60" fill="none" stroke="rgb(255,0,0)" stroke-width="1" stroke-linecap="square"/>
<text x="486.80" y="256.00" font-size="11.00" fill="rgb(255,0,0)" textLength="35.3" lengthAdjust="spacingAndGlyphs">PMN2A</text>
<rect x="521.35" y="255.85" width="5.6" height="1" fill="rgb(255,0,0)"/>
<text x="526.00 532.30 538.60 544.90" y="256.00" font-size="11.00" fill="rgb(255,0,0)">1413</text>
<polyline points="559.50,272.90 540.50,319.10" fill="none" stroke="rgb(255,0,0)" stroke-width="1" stroke-linecap="square"/>
<text x="529.90" y="270.00" font-size="11.00" fill="rgb(255,0,0)" textLength="35.3" lengthAdjust="spacingAndGlyphs">PMN2A</text>
<rect x="564.25" y="269.85" width="5.6" height="1" fill="rgb(255,0,0)"/>
<text x="568.70 575.00 581.30 587.60" y="270.00" font-size="11.00" fill="rgb(255,0,0)">1904</text>
<polyline points="78.30,342.70 121.70,306.70" fill="none" stroke="rgb(0,0,255)" stroke-width="1" stroke-linecap="square"/>
<text x="45.10" y="353.00" font-size="11.00" fill="rgb(0,0,255)" textLength="35.3" lengthAdjust="spacingAndGlyphs">PMN2A</text>
<rect x="79.30" y="352.85" width="5.6" height="1" fill="rgb(0,0,255)"/>
<text x="83.60 89.90 96.20 102.50" y="353.00" font-size="11.00" fill="rgb(0,0,255)">1394</text>
<polyline points="126.00,386.70 146.70,313.30" fill="none" stroke="rgb(0,0,255)" stroke-width="1" stroke-linecap="square"/>
<text x="92.60" y="397.00" font-size="11.00" fill="rgb(0,0,255)" textLength="35.3" lengthAdjust="spacingAndGlyphs">PMN2A</text>
<rect x="127.20" y="396.85" width="5.6" height="1" fill="rgb(0,0,255)"/>
<text x="131.90 138.20 144.50 150.80" y="397.00" font-size="11.00" fill="rgb(0,0,255)">1395</text>
<polyline points="148.30,402.70 171.00,320.00" fill="none" stroke="rgb(0,0,255)" stroke-width="1" stroke-linecap="square"/>
<text x="114.90" y="413.00" font-size="11.00" fill="rgb(0,0,255)" textLength="35.3" lengthAdjust="spacingAndGlyphs">PMN2A</text>
<rect x="149.50" y="412.85" width="5.6" height="1" fill="rgb(0,0,255)"/>
<text x="154.20 160.50 166.80 173.10" y="413.00" font-size="11.00" fill="rgb(0,0,255)">1903</text>
<polyline points="184.00,371.00 180.70,322.30" fill="none" stroke="rgb(0,0,255)" stroke-width="1" stroke-linecap="square"/>
<text x="150.90" y="381.00" font-size="11.00" fill="rgb(0,0,255)" textLength="35.3" lengthAdjust="spacingAndGlyphs">PMN2A</text>
<rect x="185.25" y="380.85" width="5.6" height="1" fill="rgb(0,0,255)"/>
<text x="189.70 196.00 202.30 208.60" y="381.00" font-size="11.00" fill="rgb(0,0,255)">1397</text>
<polyline points="234.30,385.00 242.30,339.30" fill="none" stroke="rgb(0,0,255)" stroke-width="1" stroke-linecap="square"/>
<text x="200.90" y="395.00" font-size="11.00" fill="rgb(0,0,255)" textLength="35.3" lengthAdjust="spacingAndGlyphs">PMN2A</text>
<rect x="235.15" y="394.85" width="5.6" height="1" fill="rgb(0,0,255)"/>
<text x="239.50 245.80 252.10 258.40" y="395.00" font-size="11.00" fill="rgb(0,0,255)">1401</text>
<polyline points="284.30,400.00 255.70,343.30" fill="none" stroke="rgb(0,0,255)" stroke-width="1" stroke-linecap="square"/>
<text x="251.00" y="410.00" font-size="11.00" fill="rgb(0,0,255)" textLength="35.3" lengthAdjust="spacingAndGlyphs">PMN2A</text>
<rect x="285.40" y="409.85" width="5.6" height="1" fill="rgb(0,0,255)"/>
<text x="289.90 296.20 302.50 308.80" y="410.00" font-size="11.00" fill="rgb(0,0,255)">1402</text>
<polyline points="332.70,414.00 317.70,361.70" fill="none" stroke="rgb(0,0,255)" stroke-width="1" stroke-linecap="square"/>
<text x="298.60" y="424.00" font-size="11.00" fill="rgb(0,0,255)" textLength="35.3" lengthAdjust="spacingAndGlyphs">PMN2A</text>
<rect x="333.30" y="423.85" width="5.6" height="1" fill="rgb(0,0,255)"/>
<text x="338.10 344.40 350.70 357.00" y="424.00" font-size="11.00" fill="rgb(0,0,255)">1405</text>
<polyline points="377.70,428.30 387.30,382.70" fill="none" stroke="rgb(0,0,255)" stroke-width="1" stroke-linecap="square"/>
<text x="343.50" y="439.00" font-size="11.00" fill="rgb(0,0,255)" textLength="35.3" lengthAdjust="spacingAndGlyphs">PMN2A</text>
<rect x="378.20" y="438.85" width="5.6" height="1" fill="rgb(0,0,255)"/>
<text x="383.00 389.30 395.60 401.90" y="439.00" font-size="11.00" fill="rgb(0,0,255)">1409</text>
<polyline points="421.70,443.30 436.70,399.00" fill="none" stroke="rgb(0,0,255)" stroke-width="1" stroke-linecap="square"/>
<text x="387.40" y="453.00" font-size="11.00" fill="rgb(0,0,255)" textLength="35.3" lengthAdjust="spacingAndGlyphs">PMN2A</text>
<rect x="421.85" y="452.85" width="5.6" height="1" fill="rgb(0,0,255)"/>
<text x="426.40 432.70 439.00 445.30" y="453.00" font-size="11.00" fill="rgb(0,0,255)">1411</text>
<polyline points="466.70,457.30 468.30,409.00" fill="none" stroke="rgb(0,0,255)" stroke-width="1" stroke-linecap="square"/>
<text x="432.60" y="467.00" font-size="11.00" fill="rgb(0,0,255)" textLength="35.3" lengthAdjust="spacingAndGlyphs">PMN2A</text>
<rect x="467.30" y="466.85" width="5.6" height="1" fill="rgb(0,0,255)"/>
<text x="472.10 478.40 484.70 491.00" y="467.00" font-size="11.00" fill="rgb(0,0,255)">1412</text>
<polyline points="510.00,472.70 523.30,427.30" fill="none" stroke="rgb(0,0,255)" stroke-width="1" stroke-linecap="square"/>
<text x="476.70" y="482.00" font-size="11.00" fill="rgb(0,0,255)" textLength="35.3" lengthAdjust="spacingAndGlyphs">PMN2A</text>
<rect x="511.35" y="481.85" width="5.6" height="1" fill="rgb(0,0,255)"/>
<text x="516.10 522.40 528.70 535.00" y="482.00" font-size="11.00" fill="rgb(0,0,255)">1905</text>
<polyline points="552.30,486.70 530.70,430.00" fill="none" stroke="rgb(0,0,255)" stroke-width="1" stroke-linecap="square"/>
<text x="517.50" y="496.00" font-size="11.00" fill="rgb(0,0,255)" textLength="35.3" lengthAdjust="spacingAndGlyphs">PMN2A</text>
<rect x="552.15" y="495.85" width="5.6" height="1" fill="rgb(0,0,255)"/>
<text x="556.90 563.20 569.50 575.80" y="496.00" font-size="11.00" fill="rgb(0,0,255)">1906</text>
<text x="58.20" y="306.00" font-size="8.3" fill="#222" textLength="27.80" lengthAdjust="spacing">75 kbp</text>
<text x="175.70" y="336.70" font-size="8.3" fill="#222" textLength="27.60" lengthAdjust="spacing">80 kbp</text>
<text x="292.30" y="371.00" font-size="8.3" fill="#222" textLength="27.70" lengthAdjust="spacing">85 kbp</text>
<text x="408.30" y="406.70" font-size="8.3" fill="#222" textLength="27.40" lengthAdjust="spacing">90 kbp</text>
<text x="523.30" y="445.00" font-size="8.3" fill="#222" textLength="27.70" lengthAdjust="spacing">95 kbp</text>
<g transform="translate(105.5,23) scale(1.09,1)"><text x="0" y="0" font-size="13.3" font-style="italic" fill="#111" textLength="356.42" lengthAdjust="spacing">Prochlorococcus marinus str. NATL2A, complete genome</text></g>
<text x="9" y="587" font-size="12.6" fill="#111" textLength="133.5" lengthAdjust="spacingAndGlyphs">Accession: NC_007335</text>
<text x="262.8" y="587" font-size="12.6" fill="#111" textLength="326.7" lengthAdjust="spacingAndGlyphs">Topology: circular; Length: 1,842,899 bp; Genes: 2,205</text>
</svg>
</body></html>
